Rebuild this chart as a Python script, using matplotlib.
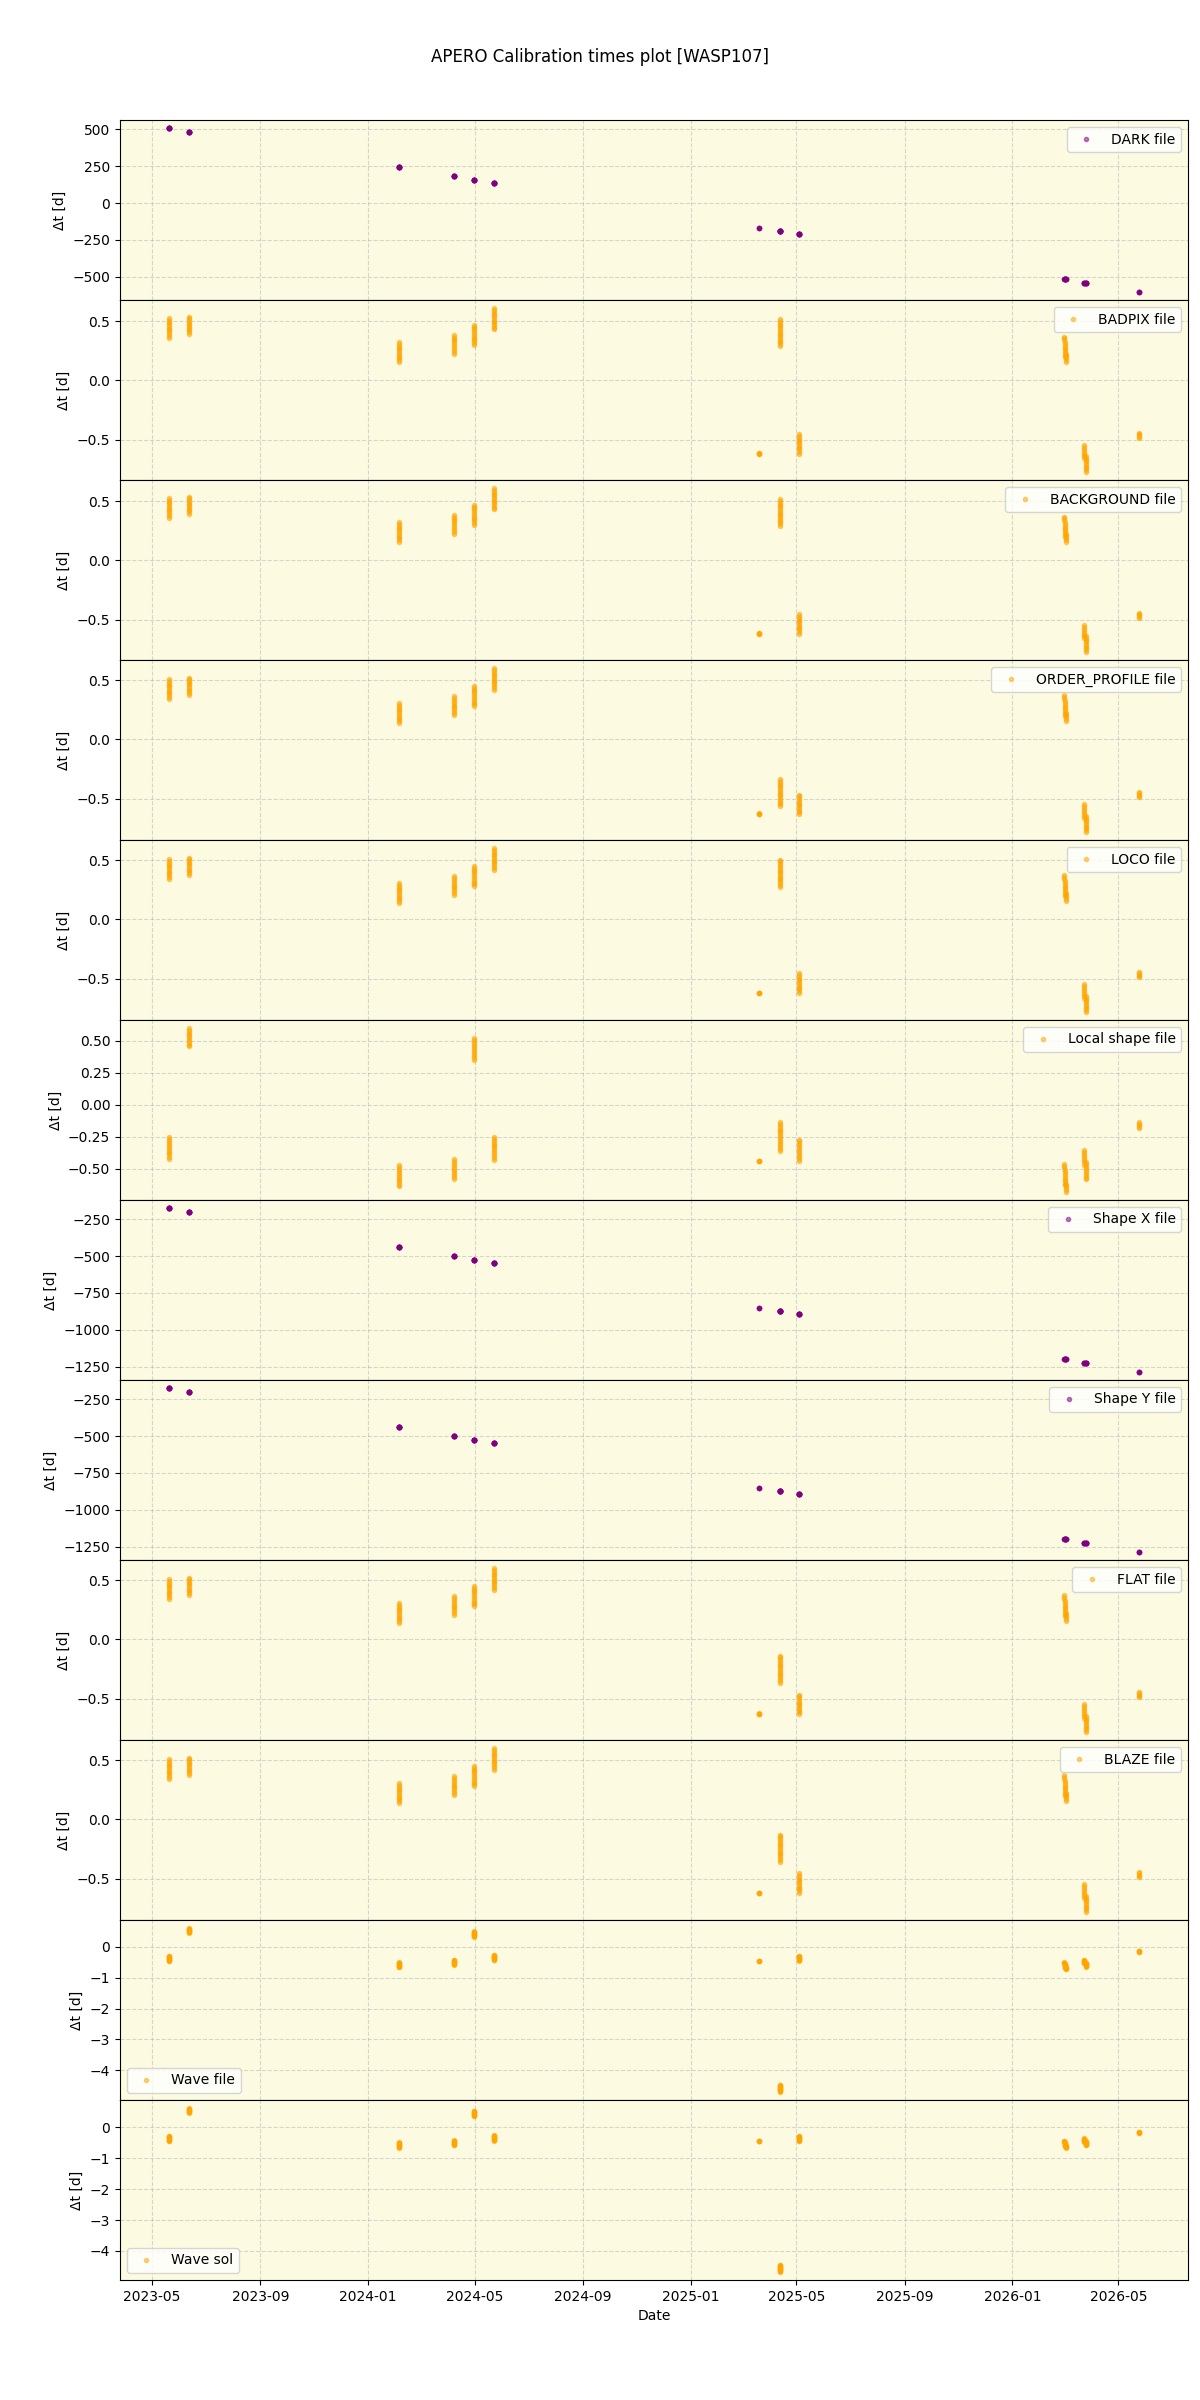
import numpy as np
import pandas as pd
import matplotlib
matplotlib.use('Agg')
import matplotlib.pyplot as plt
import matplotlib.dates as mdates

# observing nights (start of each night's sequence)
nights = ['2023-05-20', '2023-06-12', '2024-02-05', '2024-04-08', '2024-04-30',
          '2024-05-23', '2025-03-20', '2025-04-12', '2025-05-04', '2026-03-01',
          '2026-03-03', '2026-03-23', '2026-03-25', '2026-05-25']

# exposure times within each night [d after first exposure]
obs_frac = [
    [0.000, 0.015, 0.029, 0.044, 0.058, 0.073, 0.088, 0.103, 0.118, 0.133, 0.149, 0.165],
    [0.000, 0.014, 0.029, 0.043, 0.057, 0.071, 0.086, 0.100, 0.114, 0.129, 0.143],
    [0.000, 0.015, 0.031, 0.046, 0.061, 0.076, 0.092, 0.107, 0.122, 0.137, 0.153, 0.168],
    [0.000, 0.016, 0.032, 0.048, 0.064, 0.080, 0.096, 0.112, 0.128, 0.144, 0.160],
    [0.000, 0.015, 0.031, 0.046, 0.062, 0.077, 0.093, 0.108, 0.124, 0.139, 0.155, 0.170],
    [0.000, 0.015, 0.030, 0.045, 0.060, 0.075, 0.090, 0.105, 0.120, 0.135, 0.150, 0.165, 0.180],
    [0.000, 0.001, 0.002, 0.003],
    [0.000, 0.015, 0.030, 0.045, 0.061, 0.076, 0.091, 0.106, 0.121, 0.136, 0.151, 0.166,
     0.182, 0.197, 0.212, 0.227],
    [0.000, 0.015, 0.030, 0.045, 0.060, 0.075, 0.090, 0.105, 0.120, 0.135, 0.150, 0.165],
    [0.000, 0.015, 0.031, 0.046, 0.062, 0.077, 0.093, 0.108, 0.124, 0.139, 0.155, 0.170],
    [0.000, 0.016, 0.033, 0.049, 0.065],
    [0.000, 0.017, 0.033, 0.050, 0.067, 0.084, 0.100, 0.117],
    [0.000, 0.015, 0.030, 0.044, 0.059, 0.074, 0.089, 0.104, 0.118, 0.133],
    [0.000, 0.012, 0.023, 0.035, 0.046],
]

# calibration time minus first exposure of the night [d]
dark_dt = [507, 480, 243, 182, 155, 135, -169, -189, -209, -513, -515, -540, -542, -601]
badpix_dt = [0.525, 0.537, 0.323, 0.385, 0.47, 0.61, -0.617, 0.517, -0.455,
             0.37, 0.22, -0.543, -0.64, -0.443]
background_dt = [0.525, 0.537, 0.323, 0.385, 0.47, 0.61, -0.617, 0.517, -0.455,
                 0.37, 0.22, -0.543, -0.64, -0.443]
order_profile_dt = [0.505, 0.52, 0.305, 0.365, 0.45, 0.60, -0.623, -0.335, -0.465,
                    0.37, 0.22, -0.543, -0.645, -0.443]
loco_dt = [0.505, 0.52, 0.305, 0.365, 0.45, 0.60, -0.619, 0.503, -0.454,
           0.37, 0.22, -0.543, -0.645, -0.443]
local_shape_dt = [-0.255, 0.60, -0.47, -0.42, 0.52, -0.25, -0.437, -0.132, -0.271,
                  -0.46, -0.615, -0.35, -0.45, -0.136]
shape_x_dt = [-176, -203, -439, -500, -527, -547, -851, -872, -892,
              -1196, -1198, -1223, -1225, -1284]
shape_y_dt = [-176, -203, -439, -500, -527, -547, -851, -872, -892,
              -1196, -1198, -1223, -1225, -1284]
flat_dt = [0.505, 0.52, 0.305, 0.365, 0.45, 0.60, -0.623, -0.136, -0.465,
           0.37, 0.22, -0.543, -0.645, -0.443]
blaze_dt = [0.505, 0.52, 0.305, 0.365, 0.45, 0.60, -0.619, -0.128, -0.454,
            0.37, 0.22, -0.543, -0.645, -0.443]
wave_file_dt = [-0.293, 0.61, -0.49, -0.42, 0.51, -0.25, -0.46, -4.47, -0.28,
                -0.50, -0.65, -0.41, -0.51, -0.12]
wave_sol_dt = [-0.28, 0.62, -0.49, -0.42, 0.53, -0.25, -0.43, -4.45, -0.28,
               -0.44, -0.59, -0.35, -0.45, -0.14]

labels = ['DARK file', 'BADPIX file', 'BACKGROUND file', 'ORDER_PROFILE file',
          'LOCO file', 'Local shape file', 'Shape X file', 'Shape Y file',
          'FLAT file', 'BLAZE file', 'Wave file', 'Wave sol']
series = [dark_dt, badpix_dt, background_dt, order_profile_dt, loco_dt,
          local_shape_dt, shape_x_dt, shape_y_dt, flat_dt, blaze_dt,
          wave_file_dt, wave_sol_dt]
colors = ['purple', 'orange', 'orange', 'orange', 'orange', 'orange',
          'purple', 'purple', 'orange', 'orange', 'orange', 'orange']
legend_loc = ['upper right'] * 10 + ['lower left'] * 2


def night_points(offsets):
    """obs dates and delta t for every exposure"""
    xs, ys = [], []
    for night, frac, off in zip(nights, obs_frac, offsets):
        frac = np.array(frac)
        xs.append(pd.Timestamp(night) + pd.to_timedelta(frac, unit='D'))
        ys.append(off - frac)
    return np.concatenate([np.array(x) for x in xs]), np.concatenate(ys)


fig = plt.figure(figsize=(12, 24), dpi=100)
axes = fig.subplots(len(labels), 1, sharex=True)
fig.subplots_adjust(left=0.1, right=0.99, top=0.95, bottom=0.05, hspace=0)

for ax, lab, vals, col, loc in zip(axes, labels, series, colors, legend_loc):
    x, y = night_points(vals)
    ax.plot(x, y, 'o', color=col, ms=3, alpha=0.5, label=lab)
    ax.set_facecolor('#fcfbe2')
    ax.grid(True, linestyle='--', alpha=0.5)
    ax.set_ylabel('Δt [d]')
    ax.legend(loc=loc)

axes[-1].xaxis.set_major_locator(mdates.MonthLocator(bymonth=[1, 5, 9]))
axes[-1].xaxis.set_major_formatter(mdates.DateFormatter('%Y-%m'))
axes[-1].set_xlabel('Date')

fig.suptitle('APERO Calibration times plot [WASP107]')
fig.savefig('out.png')
